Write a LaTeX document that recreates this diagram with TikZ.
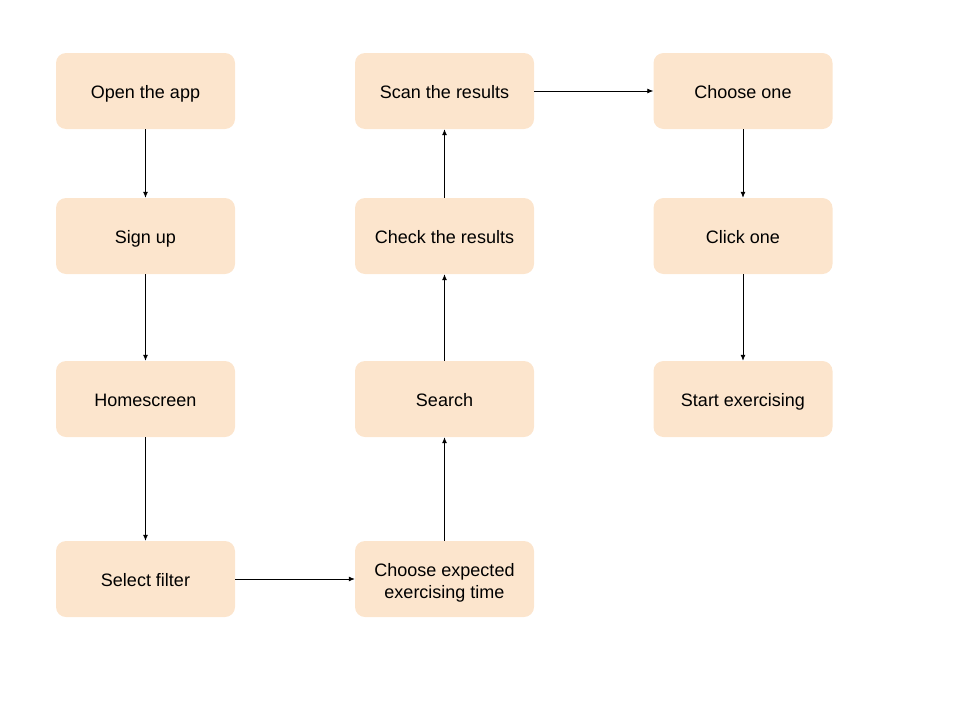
\documentclass[tikz,border=0pt]{standalone}
\usepackage{fontspec}
\setmainfont{Liberation Sans}
\usepackage{xcolor}
\usepackage{tikz}
\usetikzlibrary{arrows.meta,positioning}
\definecolor{boxfill}{HTML}{FCE5CD}
\tikzset{
  ar/.style={-{Latex[length=6pt,width=5pt]},line width=0.8pt,black},
  stepbox/.style={fill=boxfill,rounded corners=10pt,minimum width=179pt,minimum height=76pt,
    align=center,inner sep=2pt,text height=16pt,text depth=1.5pt,font=\fontsize{18}{22}\selectfont}
}
\begin{document}
\begin{tikzpicture}[x=1pt,y=-1pt]
\useasboundingbox (0,0) rectangle (960,720);
% first column
\node[stepbox] (open) at (145.5,91) {Open the app};
\node[stepbox] (signup) at (145.5,236) {Sign up};
\node[stepbox] (home) at (145.5,399) {Homescreen};
\node[stepbox] (filter) at (145.5,579) {Select filter};
% second column
\node[stepbox,text height=40pt,text depth=2pt] (choosetime) at (444.5,579) {Choose expected\\exercising time};
\node[stepbox] (search) at (444.5,399) {Search};
\node[stepbox] (check) at (444.5,236) {Check the results};
\node[stepbox] (scan) at (444.5,91) {Scan the results};
% third column
\node[stepbox] (chooseone) at (743,91) {Choose one};
\node[stepbox] (click) at (743,236) {Click one};
\node[stepbox] (start) at (743,399) {Start exercising};
\draw[ar] (open)--(signup); \draw[ar] (signup)--(home); \draw[ar] (home)--(filter);
\draw[ar] (filter)--(choosetime); \draw[ar] (choosetime)--(search);
\draw[ar] (search)--(check); \draw[ar] (check)--(scan);
\draw[ar] (scan)--(chooseone); \draw[ar] (chooseone)--(click); \draw[ar] (click)--(start);
\end{tikzpicture}
\end{document}
